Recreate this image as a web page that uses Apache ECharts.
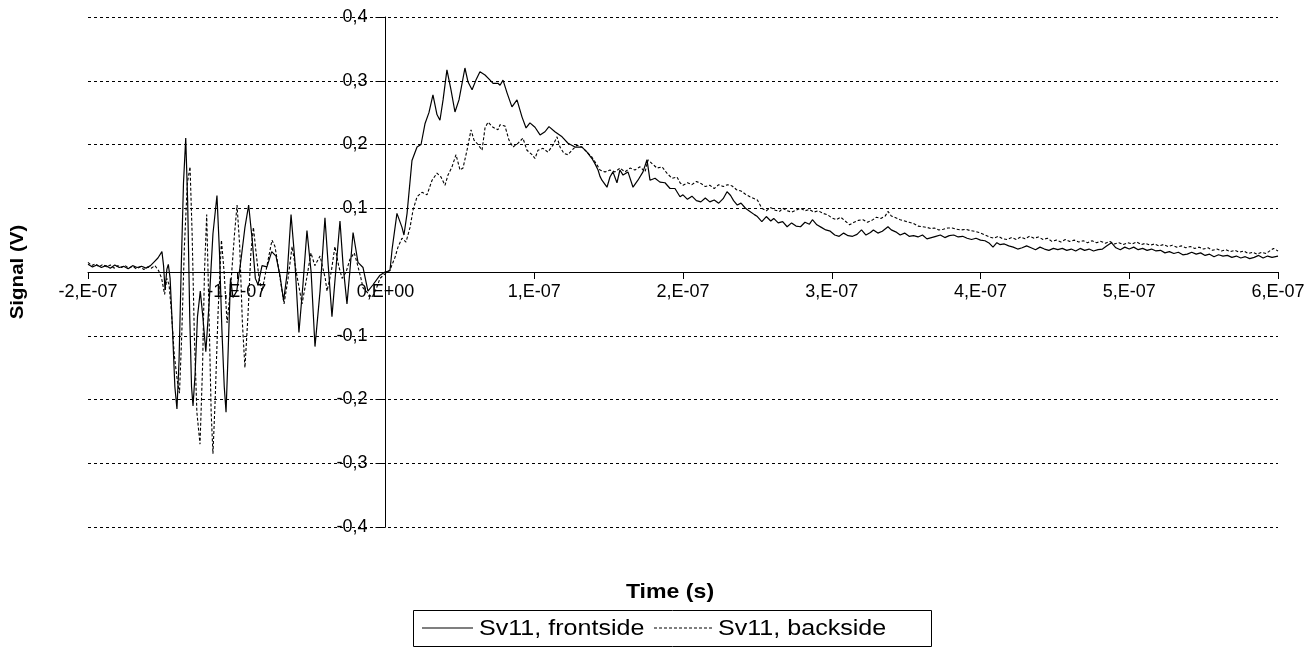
<!DOCTYPE html>
<html>
<head>
<meta charset="utf-8">
<script src="https://cdn.jsdelivr.net/npm/echarts@6/dist/echarts.min.js"></script>
<style>
  html, body { margin: 0; padding: 0; background: #fff; }
  #chart { width: 1311px; height: 651px; }
</style>
</head>
<body>
<div id="chart"></div>
<script>
// Time axis in nanoseconds, labelled in Excel-style exponent notation
const xTicks = { min: -200, max: 600, step: 100 };
const yTicks = { min: -0.4, max: 0.4, step: 0.1 };
const seriesNames = ['Sv11, frontside', 'Sv11, backside'];

// Sv11, frontside: [time (ns), signal (V)]
const frontTrigger = [
  [-200,0.012],[-197,0.008],[-194,0.011],[-191,0.007],[-188,0.010],[-185,0.006],[-182,0.011],[-179,0.007],
  [-176,0.009],[-173,0.005],[-170,0.010],[-167,0.007],[-164,0.009],[-161,0.006],[-158,0.010],[-155.5,0.016],
  [-153,0.022],[-150.3,0.032],[-149.2,0.010],[-148.2,-0.028],[-147,0.004],[-146,0.012],[-144.8,-0.010],
  [-143.2,-0.090],[-141.6,-0.180],[-140.2,-0.215],[-138.8,-0.140],[-137.4,0.000],[-135.8,0.140],[-134.3,0.210],
  [-133,0.110],[-131.6,-0.070],[-130.4,-0.180],[-129.4,-0.210],[-128,-0.160],[-126.4,-0.070],[-124.5,-0.030],
  [-122.8,-0.070],[-120.8,-0.125],[-118.6,-0.050],[-116,0.060],[-113.3,0.120],[-111.6,0.030],[-110,-0.090],
  [-108.4,-0.180],[-107.2,-0.220],[-106,-0.140],[-104.2,-0.010],[-102.5,-0.040],[-100,-0.030],[-97.1,0.020],
  [-94.5,0.070],[-92,0.105],[-89.6,0.050],[-87.5,-0.010],[-85.7,-0.020],[-83,0.010],[-79.7,0.008],[-76.5,0.032],
  [-73.6,0.025],[-71,-0.005],[-68.5,-0.045],[-66,0.000],[-63.5,0.090],[-61,0.020],[-58.2,-0.095],[-55.5,-0.020],
  [-52.8,0.065],[-50,0.000],[-47.4,-0.117],[-44,-0.030],[-40.7,0.085],[-38.5,0.010],[-36,-0.070],[-33.5,0.000],
  [-30.6,0.080],[-28.5,0.010],[-25.9,-0.050],[-24,0.000],[-21.8,0.062],[-18.5,0.015],[-15.1,0.007],[-11.8,-0.030],
  [-8.4,-0.020],[-3.7,-0.005],[-0.3,0.000]
];
const frontPulse = [
  [3,0.002],[4.4,0.035],[7.7,0.092],[11.1,0.070],[12.4,0.058],[14.5,0.092],[17.8,0.175],[21.2,0.196],[23.9,0.200],
  [26.6,0.233],[29.2,0.250],[31.9,0.278],[34.6,0.247],[36.6,0.238],[38.7,0.270],[41.3,0.317],[44,0.286],[46.7,0.251],
  [49.4,0.270],[53.4,0.320],[55.5,0.298],[58.2,0.286],[60.8,0.301],[63.5,0.314],[66.9,0.309],[70.3,0.301],[72.3,0.296],
  [75.6,0.296],[77,0.293],[79,0.301],[81.7,0.281],[85,0.259],[88.4,0.270],[91.8,0.243],[94.5,0.226],[97.1,0.234],
  [100.5,0.227],[103.9,0.215],[107.2,0.220],[109.9,0.228],[113.9,0.220],[118.7,0.212],[122.7,0.202],[127.4,0.196],
  [132.1,0.196],[135.5,0.188],[138.8,0.178],[140.8,0.170],[142.9,0.160],[144.2,0.150],[145.5,0.144],[148.9,0.133],
  [150.9,0.149],[152.9,0.157],[155.6,0.140],[157.6,0.160],[159.7,0.152],[163,0.157],[166.4,0.133],[169.7,0.144],
  [173.1,0.157],[175.8,0.176],[177.8,0.144],[181.2,0.147],[184.5,0.141],[187.9,0.140],[191.3,0.131],[194.6,0.131],
  [198,0.118]
];
const frontDecay = [
  [200,0.121],[203,0.114],[206,0.119],[209,0.112],[212,0.110],[215,0.116],[218,0.110],[221,0.113],[224,0.108],
  [227,0.115],[229.6,0.126],[232,0.120],[234,0.112],[236.5,0.105],[239,0.108],[242,0.100],[245,0.095],[248,0.090],
  [250,0.087],[253,0.079],[256,0.087],[259,0.080],[261,0.084],[264,0.077],[267,0.079],[270,0.071],[273,0.077],
  [276,0.072],[279,0.071],[282,0.078],[285,0.075],[287,0.082],[290,0.074],[293,0.070],[296,0.066],[299,0.064],
  [302,0.058],[305,0.056],[308,0.061],[311,0.057],[314,0.056],[317,0.059],[320,0.066],[323,0.058],[326,0.062],
  [328,0.066],[331,0.061],[334,0.064],[337.8,0.071],[340,0.066],[343,0.063],[346,0.058],[349,0.061],[352,0.056],
  [355,0.057],[358,0.055],[361,0.058],[364,0.052],[367,0.054],[370,0.056],[373,0.058],[376,0.054],[379,0.057],
  [382,0.058],[385,0.055],[388,0.056],[391,0.053],[394,0.051],[397,0.053],[400,0.050],[403,0.049],[406,0.045],
  [408.4,0.039],[411,0.046],[413,0.043],[416,0.044],[419,0.041],[422,0.039],[425,0.036],[428,0.038],[431,0.041],
  [434,0.038],[437,0.035],[440,0.039],[443,0.036],[446,0.034],[449,0.037],[452,0.035],[455,0.037],[458,0.034],
  [461,0.036],[464,0.033],[467,0.037],[470,0.034],[473,0.036],[476,0.033],[479,0.035],[482,0.036],[485,0.041],
  [488,0.046],[491,0.038],[494,0.035],[497,0.039],[500,0.036],[503,0.039],[506,0.035],[509,0.037],[512,0.034],
  [515,0.036],[518,0.033],[521,0.034],[524,0.030],[527,0.032],[530,0.029],[533,0.031],[536,0.027],[539,0.028],
  [542,0.031],[545,0.028],[548,0.030],[551,0.026],[554,0.028],[557,0.024],[560,0.027],[563,0.025],[566,0.026],
  [569,0.023],[572,0.025],[575,0.022],[578,0.024],[581,0.021],[584,0.023],[587,0.026],[590,0.022],[593,0.025],
  [596,0.023],[600,0.025]
];

// Sv11, backside: [time (ns), signal (V)]
const backTrigger = [
  [-200,0.015],[-197.5,0.010],[-195,0.013],[-192.5,0.008],[-190,0.012],[-187.5,0.008],[-185,0.011],[-182.5,0.006],
  [-180,0.010],[-177.5,0.007],[-175,0.010],[-172.5,0.006],[-170,0.009],[-167.5,0.005],[-165,0.008],[-162.5,0.004],
  [-160,0.008],[-157.5,0.006],[-155,0.010],[-152.5,0.002],[-150.5,-0.010],[-148.5,-0.035],[-147,-0.010],
  [-145.5,-0.020],[-144,-0.060],[-142,-0.130],[-140,-0.170],[-138.5,-0.190],[-137,-0.100],[-135.2,0.040],
  [-133.2,0.140],[-131.4,0.165],[-130,0.060],[-128.5,-0.100],[-126.8,-0.220],[-124.7,-0.270],[-123,-0.150],
  [-121.7,0.000],[-120.2,0.090],[-118.8,-0.050],[-117.2,-0.220],[-116,-0.285],[-114.5,-0.200],[-112.5,-0.060],
  [-110.3,0.050],[-108.5,0.000],[-106.5,-0.080],[-104,-0.020],[-101.5,0.060],[-99.8,0.105],[-98,0.040],
  [-96.2,-0.080],[-94.5,-0.150],[-92.5,-0.070],[-90.5,0.030],[-88.8,0.070],[-87,0.030],[-85,-0.010],[-83,-0.030],
  [-80.5,0.000],[-78,0.030],[-76.3,0.050],[-74.3,0.040],[-71.5,0.000],[-68.2,-0.050],[-65.5,-0.010],[-62.8,0.040],
  [-60,0.000],[-56.1,-0.050],[-53,-0.010],[-50.1,0.030],[-47.5,0.010],[-44,0.025],[-40.5,-0.010],[-39.3,-0.030],
  [-36.5,0.000],[-34,0.040],[-31.5,0.010],[-29.2,-0.010],[-26.5,0.000],[-23.9,0.020],[-21,0.030],[-19.2,0.015],
  [-16.5,-0.010],[-15.1,-0.025],[-13.8,-0.025],[-9.1,-0.040],[-6,-0.025],[-3.7,-0.010],[1,0.000]
];
const backPulse = [
  [3,0.003],[5,0.015],[6.4,0.023],[8.4,0.039],[11.1,0.053],[13.8,0.047],[16.5,0.070],[18.5,0.097],[21.2,0.118],
  [24.5,0.125],[27.9,0.121],[31.3,0.144],[34.6,0.155],[37.3,0.149],[40,0.136],[42,0.152],[44.7,0.165],[47.4,0.184],
  [50.1,0.160],[52.1,0.163],[54.8,0.191],[57.5,0.223],[59.5,0.207],[62.2,0.200],[64.9,0.191],[66.9,0.226],
  [68.9,0.235],[72.3,0.227],[75.6,0.223],[77,0.231],[80.3,0.229],[83,0.207],[85.7,0.196],[89.1,0.202],[92.4,0.210],
  [95.1,0.191],[98.5,0.184],[100.5,0.178],[102.5,0.191],[105.9,0.194],[109.2,0.188],[112.6,0.199],[115.3,0.212],
  [117.3,0.196],[120,0.186],[122.7,0.184],[125.4,0.191],[128.7,0.199],[132.1,0.196],[135.5,0.188],[138.8,0.180],
  [142.2,0.168],[144.2,0.160],[147.6,0.157],[150.9,0.160],[154.3,0.157],[157.6,0.163],[161,0.157],[164.4,0.163],
  [167.7,0.160],[171.1,0.165],[174.5,0.157],[176.5,0.176],[179.2,0.170],[182.5,0.163],[185.9,0.165],[189.2,0.155],
  [192.6,0.147],[196,0.149],[198,0.140]
];
const backDecay = [
  [200,0.136],[203,0.140],[206,0.137],[209,0.142],[212,0.139],[215,0.134],[218,0.136],[221,0.131],[224,0.137],
  [227,0.134],[230,0.137],[233,0.135],[236,0.129],[239,0.127],[242,0.122],[245,0.118],[248,0.115],[250,0.113],
  [253,0.100],[256,0.096],[259,0.101],[262,0.097],[265,0.095],[267,0.100],[270,0.096],[273,0.094],[276,0.097],
  [279,0.100],[282,0.096],[285,0.098],[288,0.094],[291,0.096],[294,0.092],[297,0.090],[300,0.085],[303,0.082],
  [306,0.086],[309,0.080],[312,0.074],[315,0.078],[318,0.081],[321,0.082],[324,0.078],[327,0.081],[330,0.086],
  [333,0.084],[336,0.088],[337.8,0.095],[340,0.088],[343,0.085],[346,0.082],[349,0.080],[352,0.078],[355,0.076],
  [358,0.072],[361,0.071],[364,0.070],[367,0.068],[369,0.069],[372,0.066],[375,0.067],[378,0.069],[381,0.069],
  [384,0.067],[387,0.066],[390,0.067],[393,0.065],[396,0.064],[399,0.062],[403,0.058],[406,0.055],[409,0.053],
  [412,0.056],[415,0.052],[418,0.051],[421,0.054],[424,0.051],[427,0.055],[430,0.052],[433,0.056],[436,0.053],
  [439,0.055],[442,0.051],[445,0.053],[448,0.048],[451,0.050],[454,0.047],[457,0.051],[460,0.048],[463,0.050],
  [466,0.047],[469,0.049],[472,0.046],[475,0.049],[478,0.046],[481,0.048],[484,0.045],[487,0.048],[490,0.044],
  [493,0.046],[496,0.043],[499,0.046],[502,0.044],[505,0.047],[508,0.043],[511,0.045],[514,0.042],[517,0.044],
  [520,0.041],[523,0.043],[526,0.040],[529,0.042],[532,0.039],[535,0.041],[538,0.038],[541,0.040],[544,0.037],
  [547,0.039],[550,0.036],[553,0.038],[556,0.034],[559,0.036],[562,0.033],[565,0.035],[568,0.032],[571,0.034],
  [574,0.031],[577,0.033],[580,0.029],[583,0.031],[586,0.028],[589,0.031],[592,0.029],[595,0.034],[597,0.037],
  [600,0.033]
];

const frontside = frontTrigger.concat(frontPulse, frontDecay);
const backside = backTrigger.concat(backPulse, backDecay);

const FONT = "'Liberation Sans', Arial, sans-serif";
const DASH = [3, 2];

const chart = echarts.init(document.getElementById('chart'), null, { renderer: 'canvas' });

// Plot rectangle; the axes cross at (0, 0) inside it
const plot = { left: 88, right: 1278, top: 17, bottom: 527 };
const zeroX = plot.left + (0 - xTicks.min) / (xTicks.max - xTicks.min) * (plot.right - plot.left);
const zeroY = plot.top + (yTicks.max - 0) / (yTicks.max - yTicks.min) * (plot.bottom - plot.top);

// Legend drawn as a boxed key with line samples (text slightly widened, as in the sheet's font)
const legendBox = { x: 413, y: 610, w: 518, h: 36 };
const legendKey = [
  { x1: 422, x2: 473, tx: 479, dash: null },
  { x1: 654, x2: 712, tx: 718, dash: DASH }
];

chart.setOption({
  animation: false,
  backgroundColor: '#ffffff',
  grid: { left: plot.left, right: 1311 - plot.right, top: plot.top, bottom: 651 - plot.bottom, containLabel: false },
  xAxis: {
    type: 'value',
    min: xTicks.min, max: xTicks.max, interval: xTicks.step,
    position: 'bottom', offset: -(plot.bottom - zeroY),
    axisLine: { onZero: false, lineStyle: { color: '#000', width: 1 } },
    axisTick: { show: true, inside: false, length: 7, lineStyle: { color: '#000' } },
    axisLabel: {
      margin: 11, color: '#000', fontSize: 18, fontFamily: FONT,
      showMinLabel: true, showMaxLabel: true, hideOverlap: false,
      formatter: v => v === 0 ? '0,E+00' : (v / 100) + ',E-07'
    },
    splitLine: { show: false }
  },
  yAxis: {
    type: 'value',
    min: yTicks.min, max: yTicks.max, interval: yTicks.step,
    position: 'left', offset: -(zeroX - plot.left),
    axisLine: { onZero: false, lineStyle: { color: '#000', width: 1 } },
    axisTick: { show: true, inside: false, length: 10, lineStyle: { color: '#000' } },
    axisLabel: {
      margin: 18, color: '#000', fontSize: 18, fontFamily: FONT,
      showMinLabel: true, showMaxLabel: true, hideOverlap: false,
      formatter: v => Math.abs(v) < 1e-9 ? '' : v.toFixed(1).replace('.', ',')
    },
    splitLine: { show: true, lineStyle: { color: '#000', width: 1, type: [3, 3] } }
  },
  graphic: [
    {
      type: 'text', x: 18, y: 272, rotation: Math.PI / 2, scaleX: 1.08,
      style: { text: 'Signal (V)', fill: '#000', font: 'bold 19px ' + FONT, align: 'center', verticalAlign: 'middle' }
    },
    {
      type: 'text', x: 670, y: 592, scaleX: 1.1,
      style: { text: 'Time (s)', fill: '#000', font: 'bold 21px ' + FONT, align: 'center', verticalAlign: 'middle' }
    },
    {
      type: 'rect', shape: { x: legendBox.x + 0.5, y: legendBox.y + 0.5, width: legendBox.w, height: legendBox.h },
      style: { fill: '#fff', stroke: '#000', lineWidth: 1 }
    }
  ].concat(legendKey.map((k, i) => ({
    type: 'group',
    children: [
      {
        type: 'line', shape: { x1: k.x1, y1: legendBox.y + legendBox.h / 2, x2: k.x2, y2: legendBox.y + legendBox.h / 2 },
        style: { stroke: '#000', lineWidth: 1.2, lineDash: k.dash }
      },
      {
        type: 'text', x: k.tx, y: legendBox.y + legendBox.h / 2 + 1, scaleX: 1.14,
        style: { text: seriesNames[i], fill: '#000', font: '22px ' + FONT, align: 'left', verticalAlign: 'middle' }
      }
    ]
  }))),
  series: [
    {
      name: seriesNames[0], type: 'line', data: frontside,
      symbol: 'none', showSymbol: false, smooth: false,
      lineStyle: { color: '#000', width: 1.2, type: 'solid' }
    },
    {
      name: seriesNames[1], type: 'line', data: backside,
      symbol: 'none', showSymbol: false, smooth: false,
      lineStyle: { color: '#000', width: 1.1, type: DASH }
    }
  ]
});
</script>
</body>
</html>
